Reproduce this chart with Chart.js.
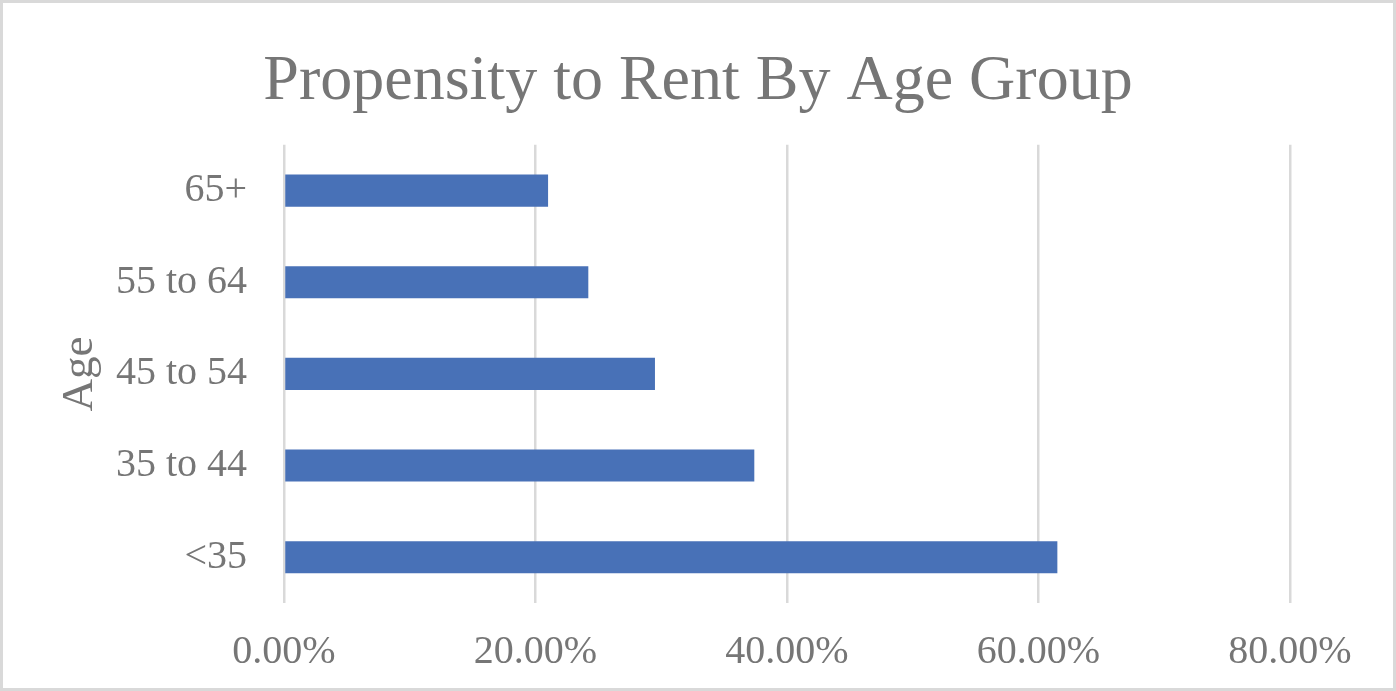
<!DOCTYPE html>
<html>
<head>
<meta charset="utf-8">
<script src="https://cdn.jsdelivr.net/npm/chart.js@4"></script>
<style>
  html, body { margin: 0; padding: 0; background: #fff; }
  #wrap { width: 1396px; height: 691px; box-sizing: border-box; border: 3px solid #d9d9d9; background: #fff; }
  #c { display: block; }
</style>
</head>
<body>
<div id="wrap"><canvas id="c" width="1390" height="685"></canvas></div>
<script>
const categories = ['<35', '35 to 44', '45 to 54', '55 to 64', '65+'];
const rentShare = [61.5, 37.4, 29.5, 24.2, 21.0];
const xTicks = [0, 20, 40, 60, 80];
const chartTitle = 'Propensity to Rent By Age Group';
const yTitle = 'Age';

const textColor = '#767676';
const fontFam = '"Liberation Serif", "Times New Roman", serif';

new Chart(document.getElementById('c'), {
  type: 'bar',
  data: {
    labels: categories,
    datasets: [{
      data: rentShare,
      backgroundColor: '#4871B7',
      borderWidth: 0,
      barPercentage: 0.35,
      categoryPercentage: 1.0
    }]
  },
  options: {
    indexAxis: 'y',
    responsive: false,
    animation: false,
    layout: { padding: 0 },
    plugins: {
      legend: { display: false },
      tooltip: { enabled: false },
      title: {
        display: true,
        text: chartTitle,
        color: textColor,
        font: { family: fontFam, size: 64, weight: 'normal' },
        padding: { top: 41, bottom: 24 }
      }
    },
    scales: {
      x: {
        min: 0,
        max: 80,
        afterBuildTicks: (scale) => { scale.ticks = xTicks.map(v => ({ value: v })); },
        ticks: {
          color: textColor,
          font: { family: fontFam, size: 40 },
          padding: 25,
          callback: (v) => Number(v).toFixed(2) + '%'
        },
        grid: { color: '#d9d9d9', lineWidth: 2.5, drawTicks: false },
        border: { display: false },
        afterFit: (scale) => { scale.height = 85; scale.paddingRight = 103; }
      },
      y: {
        reverse: true,
        ticks: {
          color: textColor,
          font: { family: fontFam, size: 40 },
          padding: 37
        },
        grid: { display: false, drawTicks: false },
        border: { display: false },
        title: {
          display: true,
          text: yTitle,
          color: textColor,
          font: { family: fontFam, size: 45 },
          padding: { top: 50, bottom: 0 }
        },
        afterFit: (scale) => { scale.width = 281; }
      }
    }
  }
});
</script>
</body>
</html>
